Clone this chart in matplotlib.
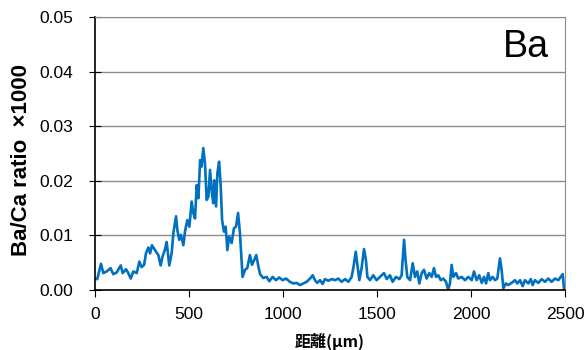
import matplotlib.pyplot as plt

plt.rcParams['font.family'] = ['Liberation Sans', 'Noto Sans CJK JP', 'DejaVu Sans']

# distance (um) and Ba/Ca ratio
dist = [0, 12, 32, 44, 62, 83, 97, 115, 137, 147, 165, 177, 190, 204, 222, 236, 248,
        261, 271, 284, 293, 303, 319, 337, 349, 360, 372, 381, 395, 408, 417, 431, 438,
        448, 457, 470, 479, 491, 502, 514, 523, 532, 541, 550, 559, 567, 576, 585, 594,
        603, 612, 620, 629, 634, 644, 651, 660, 668, 676, 686, 695, 704, 714, 727, 739,
        750, 761, 771, 785, 798, 810, 824, 835, 847, 858, 869, 878, 895, 913, 927, 945,
        963, 980, 998, 1016, 1037, 1055, 1073, 1090, 1108, 1126, 1144, 1158, 1170, 1182,
        1197, 1211, 1223, 1241, 1259, 1277, 1294, 1312, 1330, 1348, 1365, 1374, 1387,
        1397, 1406, 1418, 1431, 1441, 1449, 1463, 1480, 1498, 1516, 1537, 1552, 1569,
        1583, 1601, 1619, 1631, 1644, 1652, 1661, 1676, 1690, 1702, 1714, 1725, 1738,
        1750, 1764, 1778, 1791, 1803, 1814, 1826, 1839, 1853, 1867, 1879, 1888, 1897,
        1906, 1920, 1932, 1950, 1968, 1986, 2004, 2016, 2030, 2044, 2057, 2069, 2080,
        2092, 2101, 2115, 2128, 2140, 2154, 2163, 2172, 2186, 2198, 2216, 2234, 2246,
        2261, 2275, 2287, 2305, 2318, 2328, 2340, 2358, 2376, 2394, 2411, 2429, 2447,
        2465, 2477, 2488, 2495]
ratio = [0.0020, 0.0020, 0.0048, 0.0031, 0.0034, 0.0040, 0.0029, 0.0032, 0.0045, 0.0031,
         0.0038, 0.0031, 0.0021, 0.0034, 0.0031, 0.0052, 0.0042, 0.0046, 0.0067, 0.0078,
         0.0067, 0.0082, 0.0073, 0.0064, 0.0045, 0.0062, 0.0074, 0.0088, 0.0045, 0.0068,
         0.0105, 0.0135, 0.0110, 0.0092, 0.0101, 0.0082, 0.0108, 0.0128, 0.0116, 0.0162,
         0.0141, 0.0131, 0.0192, 0.0168, 0.0238, 0.0226, 0.0260, 0.0232, 0.0165, 0.0171,
         0.0220, 0.0183, 0.0159, 0.0201, 0.0153, 0.0214, 0.0235, 0.0195, 0.0128, 0.0107,
         0.0116, 0.0073, 0.0098, 0.0086, 0.0113, 0.0116, 0.0141, 0.0104, 0.0024, 0.0037,
         0.0040, 0.0064, 0.0046, 0.0055, 0.0064, 0.0043, 0.0029, 0.0022, 0.0024, 0.0016,
         0.0024, 0.0018, 0.0023, 0.0018, 0.0021, 0.0015, 0.0012, 0.0013, 0.0009, 0.0012,
         0.0015, 0.0021, 0.0027, 0.0018, 0.0013, 0.0018, 0.0011, 0.0020, 0.0017, 0.0020,
         0.0018, 0.0021, 0.0015, 0.0020, 0.0015, 0.0024, 0.0040, 0.0070, 0.0043, 0.0018,
         0.0040, 0.0075, 0.0055, 0.0024, 0.0018, 0.0027, 0.0018, 0.0024, 0.0031, 0.0020,
         0.0027, 0.0015, 0.0024, 0.0020, 0.0027, 0.0092, 0.0055, 0.0024, 0.0018, 0.0049,
         0.0024, 0.0034, 0.0012, 0.0031, 0.0037, 0.0021, 0.0031, 0.0024, 0.0040, 0.0024,
         0.0027, 0.0018, 0.0021, 0.0015, 0.0000, 0.0012, 0.0046, 0.0024, 0.0031, 0.0021,
         0.0024, 0.0018, 0.0024, 0.0018, 0.0034, 0.0018, 0.0027, 0.0013, 0.0024, 0.0012,
         0.0031, 0.0018, 0.0024, 0.0018, 0.0021, 0.0058, 0.0037, 0.0003, 0.0012, 0.0009,
         0.0013, 0.0018, 0.0012, 0.0018, 0.0007, 0.0018, 0.0012, 0.0020, 0.0009, 0.0018,
         0.0013, 0.0020, 0.0015, 0.0021, 0.0015, 0.0021, 0.0018, 0.0024, 0.0029, 0.0000]

fig = plt.figure(figsize=(5.87, 3.5), dpi=100)
ax = fig.add_axes([95 / 587, 60 / 350, 470 / 587, 273 / 350])

ax.plot(dist, ratio, color='#0070c0', linewidth=1.9)

ax.set_xlim(0, 2500)
ax.set_ylim(0, 0.05)
ax.set_xticks([0, 500, 1000, 1500, 2000, 2500])
ax.set_yticks([0.0, 0.01, 0.02, 0.03, 0.04, 0.05])
ax.set_yticklabels(['0.00', '0.01', '0.02', '0.03', '0.04', '0.05'])
ax.tick_params(axis='both', labelsize=12.5, colors='black')
ax.tick_params(axis='y', direction='inout', length=8, pad=12)
ax.tick_params(axis='x', direction='out', length=5, pad=7)

ax.yaxis.grid(True, color='#8c8c8c', linewidth=1)
ax.set_axisbelow(True)
for side in ['top', 'right']:
    ax.spines[side].set_color('#8c8c8c')
for side in ['left', 'bottom']:
    ax.spines[side].set_color('black')
    ax.spines[side].set_linewidth(1.2)

ax.set_ylabel('Ba/Ca ratio  \u00d71000', fontsize=16, fontweight='bold')
ax.yaxis.set_label_coords(-63 / 470, 0.476)
ax.set_xlabel('距離(μm)', fontsize=11.5, fontweight='bold',
              family=['Noto Sans CJK JP', 'DejaVu Sans'])
ax.xaxis.set_label_coords(0.5, -43 / 273)

ax.text(0.965, 0.855, 'Ba', transform=ax.transAxes, ha='right', va='baseline',
        fontsize=27)

fig.savefig('out.png', dpi=100)
